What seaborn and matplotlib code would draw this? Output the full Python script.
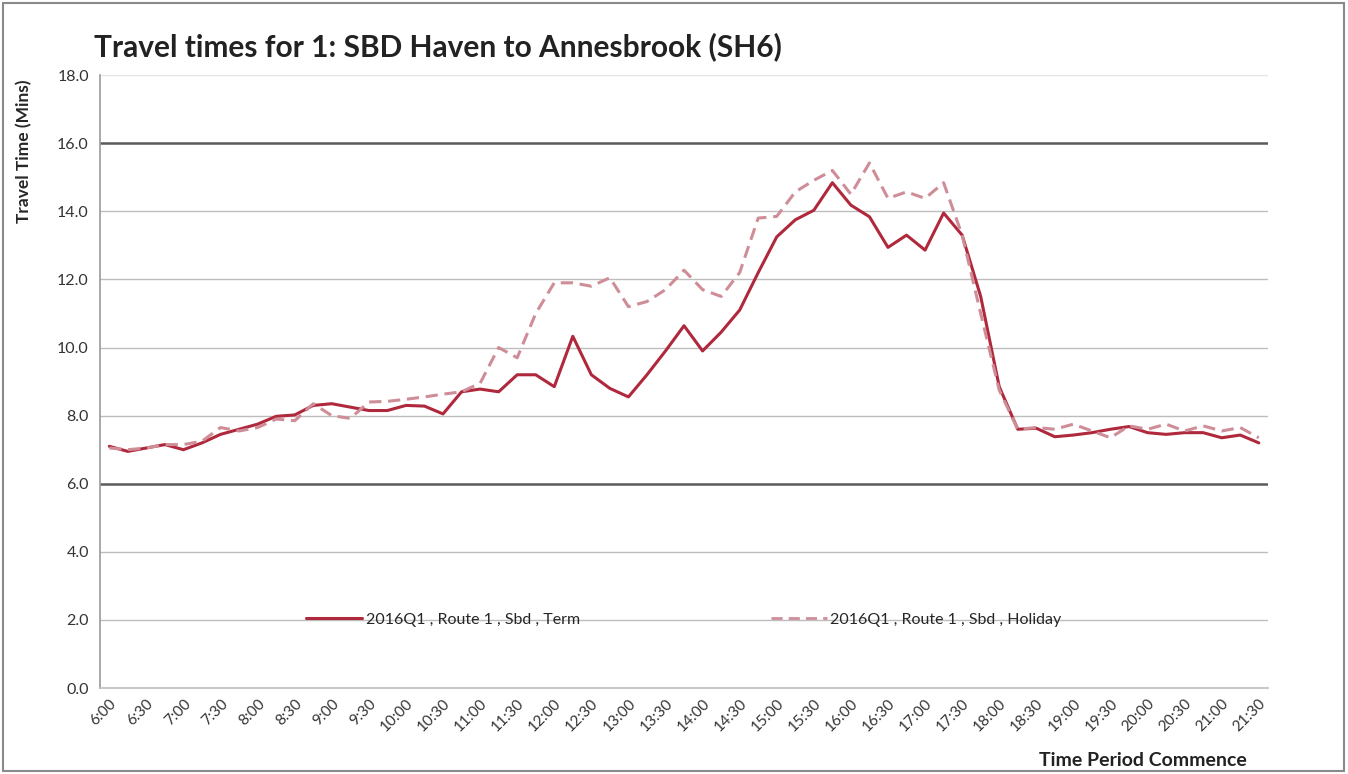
import matplotlib
matplotlib.use('Agg')
import matplotlib.pyplot as plt
import numpy as np
import pandas as pd
import seaborn as sns
from matplotlib.patches import Rectangle

TIMES = [f'{h}:{m:02d}' for h in range(6, 22) for m in (0, 15, 30, 45)][:63]

TERM = [7.1, 6.95, 7.05, 7.15, 7.0, 7.2, 7.45, 7.6, 7.75, 7.98,
        8.02, 8.3, 8.35, 8.25, 8.15, 8.15, 8.3, 8.28, 8.05, 8.7,
        8.78, 8.7, 9.2, 9.2, 8.85, 10.33, 9.2, 8.8, 8.55, 9.2,
        9.9, 10.64, 9.9, 10.45, 11.1, 12.2, 13.25, 13.75, 14.03, 14.84,
        14.18, 13.84, 12.94, 13.3, 12.86, 13.95, 13.3, 11.5, 8.85, 7.6,
        7.63, 7.38, 7.43, 7.5, 7.6, 7.68, 7.5, 7.45, 7.5, 7.5,
        7.35, 7.43, 7.2]

HOLIDAY = [7.05, 7.0, 7.05, 7.15, 7.15, 7.25, 7.65, 7.55, 7.65, 7.9,
           7.85, 8.35, 8.0, 7.92, 8.4, 8.42, 8.48, 8.55, 8.63, 8.7,
           8.95, 10.0, 9.7, 11.0, 11.9, 11.9, 11.8, 12.05, 11.2, 11.35,
           11.7, 12.27, 11.7, 11.5, 12.2, 13.8, 13.85, 14.57, 14.91, 15.2,
           14.5, 15.42, 14.38, 14.57, 14.38, 14.84, 13.3, 11.0, 8.75, 7.6,
           7.65, 7.6, 7.75, 7.55, 7.35, 7.7, 7.6, 7.75, 7.55, 7.7,
           7.55, 7.65, 7.35]

SERIES_NAMES = ['2016Q1 , Route 1 , Sbd , Term', '2016Q1 , Route 1 , Sbd , Holiday']
Y_TICKS = [0, 2, 4, 6, 8, 10, 12, 14, 16, 18]

sns.set_style('white')
plt.rcParams['font.family'] = ['Lato', 'DejaVu Sans']

df = pd.DataFrame({
    'pos': list(range(len(TIMES))) * 2,
    'value': TERM + HOLIDAY,
    'series': [SERIES_NAMES[0]] * len(TIMES) + [SERIES_NAMES[1]] * len(TIMES),
})

fig = plt.figure(figsize=(13.48, 7.74), dpi=100)
ax = fig.add_axes([0.0742, 0.111, 0.8665, 0.792])

# gridlines, 6 and 16 drawn darker like the reference
for t in Y_TICKS:
    if t in (6, 16):
        ax.axhline(t, color='#5a5a5a', lw=1.8, zorder=1)
    elif t == 18:
        ax.axhline(t, color='#e4e4e4', lw=1.0, zorder=1)
    elif t > 0:
        ax.axhline(t, color='#bdbdbd', lw=1.0, zorder=1)

sns.lineplot(data=df, x='pos', y='value', hue='series', style='series',
             palette=['#b0283c', '#cf8d98'], dashes=[(None, None), (4, 2.2)],
             linewidth=2.2, ax=ax, zorder=3)
for ln in ax.get_lines():
    if ln.get_label() == SERIES_NAMES[1]:
        ln.set_linewidth(2.0)

ax.set_xlim(-0.5, len(TIMES) - 0.5)
ax.set_ylim(0, 18)
ax.set_yticks(Y_TICKS)
ax.set_yticklabels([f'{t:.1f}' for t in Y_TICKS], fontsize=11.5, color='#333333')
ax.set_xticks(range(0, len(TIMES), 2))
ax.set_xticklabels(TIMES[::2], rotation=45, ha='right', rotation_mode='anchor',
                   fontsize=11, color='#333333')
ax.tick_params(axis='x', length=4, color='#bdbdbd', pad=2)
ax.tick_params(axis='y', length=0, pad=8)

for side in ('top', 'right'):
    ax.spines[side].set_visible(False)
ax.spines['left'].set_color('#9a9a9a')
ax.spines['bottom'].set_color('#bdbdbd')
ax.spines['left'].set_linewidth(1.2)
ax.spines['bottom'].set_linewidth(1.2)

ax.set_xlabel('')
ax.set_ylabel('Travel Time (Mins)', fontsize=12.5, fontweight='bold')
ax.yaxis.set_label_coords(-0.058, 0.875)

handles, labels = ax.get_legend_handles_labels()
ax.legend(handles, labels, loc='center', bbox_to_anchor=(0.5, 2 / 18),
          ncol=2, frameon=False, fontsize=11.5, handlelength=3.5,
          columnspacing=12, handletextpad=0.2)

fig.text(0.07, 0.94, 'Travel times for 1: SBD Haven to Annesbrook (SH6)',
         fontsize=21.5, fontweight='bold', color='#222222', va='center')
fig.text(0.925, 0.018, 'Time Period Commence', fontsize=14, fontweight='bold',
         color='#222222', ha='right', va='center')

fig.patches.append(Rectangle((0.002, 0.004), 0.995, 0.992, transform=fig.transFigure,
                             fill=False, edgecolor='#8a8a8a', lw=1.5))

fig.savefig('out.png', dpi=100)
